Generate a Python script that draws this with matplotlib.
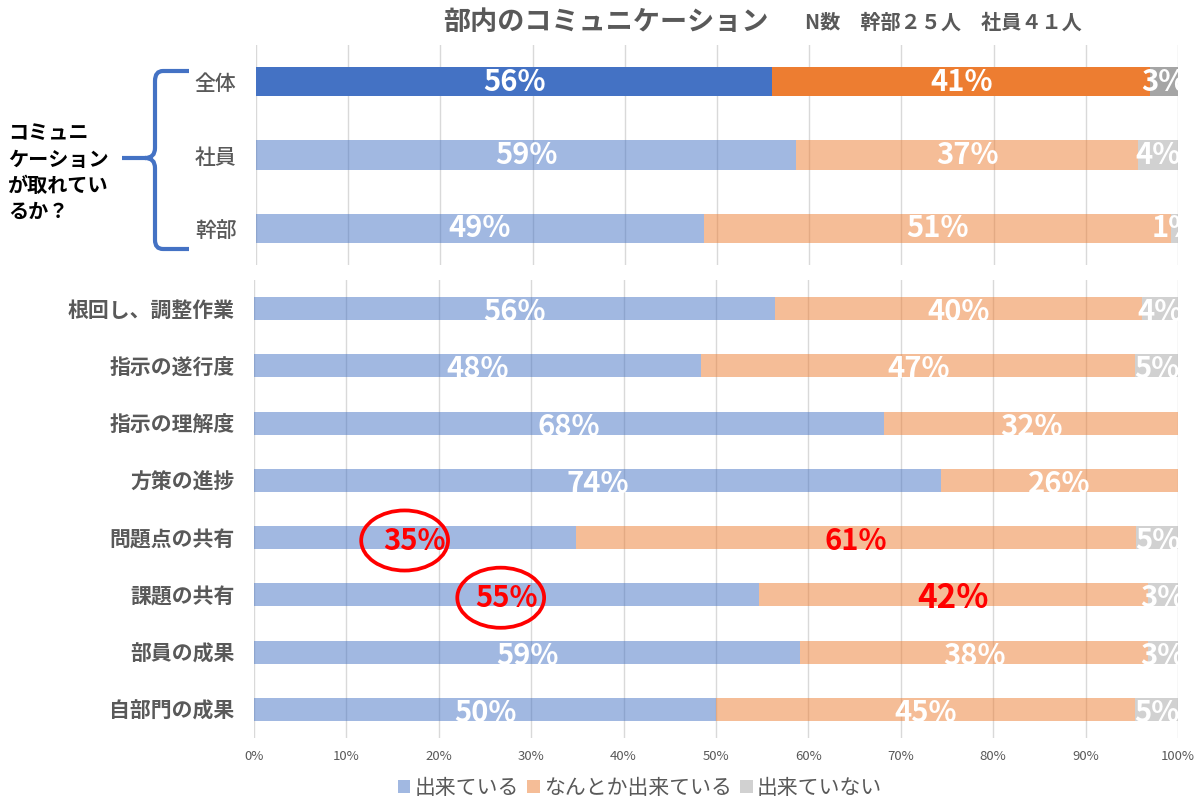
import matplotlib
matplotlib.use('Agg')
from matplotlib import pyplot as plt
from matplotlib.patches import Ellipse, Patch, PathPatch
from matplotlib.path import Path
import numpy as np

plt.rcParams['font.family'] = ['Noto Sans CJK JP', 'DejaVu Sans']

# data (percent)
series_names = ['出来ている', 'なんとか出来ている', '出来ていない']

top_cats = ['全体', '社員', '幹部']
top_done = [56.0, 58.6, 48.6]
top_some = [41.0, 37.1, 50.6]
top_not = [3.0, 4.3, 0.8]

bot_cats = ['根回し、調整作業', '指示の遂行度', '指示の理解度', '方策の進捗',
            '問題点の共有', '課題の共有', '部員の成果', '自部門の成果']
bot_done = [56.4, 48.4, 68.2, 74.3, 34.8, 54.6, 59.1, 50.0]
bot_some = [39.7, 47.0, 31.8, 25.7, 60.7, 42.1, 37.7, 45.4]
bot_not = [3.9, 4.6, 0.0, 0.0, 4.6, 3.3, 3.2, 4.6]

# labels highlighted in red in the lower panel: (row, series)
red_labels = [(4, 0), (4, 1), (5, 0), (5, 1)]
big_labels = [(5, 1)]
circled = [(4, 16.3), (5, 26.7)]   # row, x centre of the red circle

colors = ['#4472C4', '#ED7D31', '#A5A5A5']
grey_txt = '#595959'

fig = plt.figure(figsize=(12, 8.11), dpi=100)

# overlay in pixel coords for title, bracket, side text
ov = fig.add_axes([0, 0, 1, 1])
ov.set_xlim(0, 1200)
ov.set_ylim(811, 0)
ov.axis('off')
ov.patch.set_alpha(0)


def draw_panel(ax, cats, done, some, notd, top=False, yoff=0.0):
    y = np.arange(len(cats))
    left = np.zeros(len(cats))
    for s, vals in enumerate([done, some, notd]):
        vals = np.asarray(vals)
        for i in range(len(cats)):
            alpha = 1.0 if (top and i == 0) else 0.5
            ax.barh(y[i], vals[i], left=left[i], height=0.4,
                    color=colors[s], alpha=alpha, linewidth=0, zorder=2)
            if vals[i] <= 0:
                continue
            col = 'white'
            fs = 21
            if not top and (i, s) in red_labels:
                col = '#FF0000'
            if not top and (i, s) in big_labels:
                fs = 24
            ax.text(left[i] + vals[i] / 2, y[i] + yoff, '%.0f%%' % vals[i],
                    ha='center', va='center', color=col, fontsize=fs,
                    fontweight='bold', zorder=4)
        left = left + vals
    ax.set_xlim(0, 100)
    ax.set_ylim(len(cats) - 0.5, -0.5)
    ax.set_xticks(np.arange(0, 101, 10))
    ax.grid(axis='x', color='#D9D9D9', linewidth=1, zorder=0)
    ax.set_axisbelow(True)
    for sp in ax.spines.values():
        sp.set_visible(False)
    ax.tick_params(length=0)
    ax.set_yticks(y)
    ax.set_yticklabels(cats, fontsize=15, color=grey_txt,
                       fontweight='medium' if top else 'bold')
    ax.tick_params(axis='y', pad=14)


ax1 = fig.add_axes([256 / 1200, 1 - 265 / 811, 922 / 1200, 220 / 811])
draw_panel(ax1, top_cats, top_done, top_some, top_not, top=True)
ax1.set_xticklabels([])

ax2 = fig.add_axes([254 / 1200, 1 - 738 / 811, 924 / 1200, 458 / 811])
draw_panel(ax2, bot_cats, bot_done, bot_some, bot_not, yoff=0.06)
ax2.set_xticklabels(['%d%%' % v for v in range(0, 101, 10)],
                    fontsize=9.5, color=grey_txt)
ax2.tick_params(axis='x', pad=9)

for row, xc in circled:
    ax2.add_patch(Ellipse((xc, row + 0.05), 9.4, 1.05, fill=False,
                          edgecolor='#FF0000', linewidth=2.7, zorder=5))

# title
ov.text(443, 22, '部内のコミュニケーション', fontsize=19.5, fontweight='bold',
        color=grey_txt, ha='left', va='center')
ov.text(805, 22, 'N数　幹部２５人　社員４１人', fontsize=14.5,
        fontweight='bold', color=grey_txt, ha='left', va='center')

# side note and bracket
side_lines = ['コミュニ', 'ケーション', 'が取れてい', 'るか？']
for k, line in enumerate(side_lines):
    ov.text(8, 133 + k * 26.3, line, fontsize=14.5, fontweight='bold',
            color='black', ha='left', va='center')

verts = [(189, 71), (163, 71), (155, 71), (155, 81), (155, 148),
         (155, 158), (145, 158), (155, 158), (155, 168), (155, 240),
         (155, 249), (163, 249), (189, 249)]
codes = [Path.MOVETO, Path.LINETO, Path.CURVE3, Path.CURVE3, Path.LINETO,
         Path.CURVE3, Path.CURVE3, Path.CURVE3, Path.CURVE3, Path.LINETO,
         Path.CURVE3, Path.CURVE3, Path.LINETO]
ov.add_patch(PathPatch(Path(verts, codes), fill=False, edgecolor='#4472C4',
                       linewidth=3.0, capstyle='butt'))
ov.plot([122, 146], [158, 158], color='#4472C4', linewidth=3.0,
        solid_capstyle='butt')

handles = [Patch(facecolor=c, alpha=0.5, linewidth=0) for c in colors]
leg = fig.legend(handles, series_names, loc='center', ncol=3,
                 bbox_to_anchor=(640 / 1200, 1 - 788 / 811), frameon=False,
                 fontsize=15, handlelength=0.6, handleheight=0.6,
                 handletextpad=0.2, columnspacing=0.4)
for t in leg.get_texts():
    t.set_color(grey_txt)

fig.savefig('out.png', dpi=100)
